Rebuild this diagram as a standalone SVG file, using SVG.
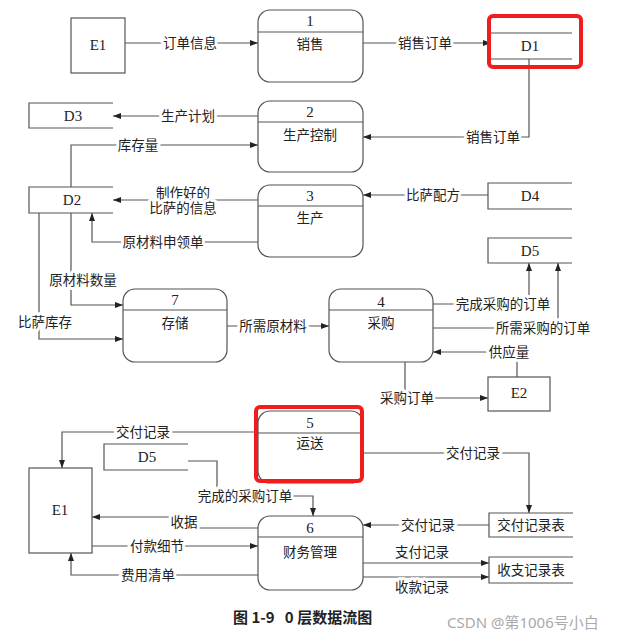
<svg xmlns="http://www.w3.org/2000/svg" width="626" height="639" viewBox="0 0 626 639">
<style>
.ln{fill:none;stroke:#555;stroke-width:1.2}
.bx{fill:#fff;stroke:#555;stroke-width:1.2}
.t{font-family:"Liberation Serif","Noto Sans CJK SC",serif;font-size:13.5px;fill:#222;text-anchor:middle;dominant-baseline:central}
.n{font-size:15px}
.lb{paint-order:stroke;stroke:#fff;stroke-width:6px;stroke-linejoin:round}
.red{fill:none;stroke:#f21c1c;stroke-width:4}
.cap{font-family:"Noto Sans CJK SC","Noto Sans",sans-serif;font-size:15px;font-weight:bold;fill:#222;white-space:pre}
.wm{font-family:"Noto Sans","Noto Sans CJK SC",sans-serif;font-size:15px;fill:#aaa}
</style>
<defs>
<marker id="a" viewBox="0 0 8 6" refX="8" refY="3" markerWidth="8" markerHeight="6" orient="auto" markerUnits="userSpaceOnUse"><path d="M0,0 L8,3 L0,6z" fill="#222"/></marker>
</defs>
<rect width="626" height="639" fill="#fff"/>
<g id="connectors">
<path class="ln" d="M125,43 H258" marker-end="url(#a)"/>
<path class="ln" d="M363,43 H491" marker-end="url(#a)"/>
<path class="ln" d="M529,59 V137 H363" marker-end="url(#a)"/>
<path class="ln" d="M258,116 H113" marker-end="url(#a)"/>
<path class="ln" d="M71,187 V145 H258" marker-end="url(#a)"/>
<path class="ln" d="M258,200 H113" marker-end="url(#a)"/>
<path class="ln" d="M258,242 H92 V213" marker-end="url(#a)"/>
<path class="ln" d="M71,213 V305 H123" marker-end="url(#a)"/>
<path class="ln" d="M39,213 V339 H123" marker-end="url(#a)"/>
<path class="ln" d="M227,326 H329" marker-end="url(#a)"/>
<path class="ln" d="M488,195 H363" marker-end="url(#a)"/>
<path class="ln" d="M433,304 H529 V263" marker-end="url(#a)"/>
<path class="ln" d="M433,328 H558 V263" marker-end="url(#a)"/>
<path class="ln" d="M517,377 V352 H433" marker-end="url(#a)"/>
<path class="ln" d="M405,362 V398 H488" marker-end="url(#a)"/>
<path class="ln" d="M258,432 H62 V468" marker-end="url(#a)"/>
<path class="ln" d="M363,453 H529 V513" marker-end="url(#a)"/>
<path class="ln" d="M188,461 H217 V496 H313 V516" marker-end="url(#a)"/>
<path class="ln" d="M258,528 H196 L172,517 H92" marker-end="url(#a)"/>
<path class="ln" d="M92,546 H258" marker-end="url(#a)"/>
<path class="ln" d="M258,575 H71 V553" marker-end="url(#a)"/>
<path class="ln" d="M489,525 H363" marker-end="url(#a)"/>
<path class="ln" d="M363,563 H489" marker-end="url(#a)"/>
<path class="ln" d="M363,577 H489" marker-end="url(#a)"/>
<g class="t lb">
<text x="190" y="43">订单信息</text>
<text x="425" y="43">销售订单</text>
<text x="493" y="137">销售订单</text>
<text x="188" y="116">生产计划</text>
<text x="138" y="145">库存量</text>
<text x="183" y="193">制作好的</text>
<text x="183" y="208">比萨的信息</text>
<text x="163" y="242">原材料申领单</text>
<text x="83" y="280">原材料数量</text>
<text x="45" y="322">比萨库存</text>
<text x="273" y="326">所需原材料</text>
<text x="433" y="195">比萨配方</text>
<text x="503" y="304">完成采购的订单</text>
<text x="543" y="328">所需采购的订单</text>
<text x="509" y="352">供应量</text>
<text x="407" y="398">采购订单</text>
<text x="143" y="432">交付记录</text>
<text x="473" y="453">交付记录</text>
<text x="245" y="496">完成的采购订单</text>
<text x="184" y="522">收据</text>
<text x="157" y="546">付款细节</text>
<text x="148" y="575">费用清单</text>
<text x="428" y="525">交付记录</text>
<text x="422" y="552">支付记录</text>
<text x="422" y="587">收款记录</text>
</g>
</g>
<g id="E1top"><rect class="bx" x="71" y="18" width="54" height="55"/><text class="t n" x="98" y="45">E1</text></g>
<g id="P1"><rect class="bx" x="258" y="10" width="105" height="72" rx="12"/><path class="ln" d="M258,32 H363"/><text class="t n" x="310" y="21">1</text><text class="t" x="310" y="44">销售</text></g>
<g id="D1"><path class="ln" d="M491,33 H572 M491,59 H572"/><text class="t n" x="530" y="46">D1</text></g>
<g id="P2"><rect class="bx" x="258" y="101" width="105" height="71" rx="12"/><path class="ln" d="M258,122 H363"/><text class="t n" x="310" y="112">2</text><text class="t" x="310" y="135">生产控制</text></g>
<g id="D3"><path class="ln" d="M113,103 H29 V128 H113"/><text class="t n" x="73" y="116">D3</text></g>
<g id="D2"><path class="ln" d="M113,187 H29 V213 H113"/><text class="t n" x="72" y="200">D2</text></g>
<g id="P3"><rect class="bx" x="258" y="185" width="105" height="72" rx="12"/><path class="ln" d="M258,206 H363"/><text class="t n" x="310" y="196">3</text><text class="t" x="310" y="218">生产</text></g>
<g id="D4"><path class="ln" d="M572,183 H488 V209 H572"/><text class="t n" x="530" y="196">D4</text></g>
<g id="D5a"><path class="ln" d="M572,238 H488 V263 H572"/><text class="t n" x="530" y="251">D5</text></g>
<g id="P7"><rect class="bx" x="123" y="289" width="104" height="73" rx="12"/><path class="ln" d="M123,310 H227"/><text class="t n" x="175" y="300">7</text><text class="t" x="175" y="323">存储</text></g>
<g id="P4"><rect class="bx" x="329" y="289" width="104" height="73" rx="12"/><path class="ln" d="M329,310 H433"/><text class="t n" x="381" y="302">4</text><text class="t" x="381" y="323">采购</text></g>
<g id="E2"><rect class="bx" x="488" y="377" width="62" height="34"/><text class="t n" x="519" y="393">E2</text></g>
<g id="P5"><rect class="bx" x="258" y="411" width="105" height="72" rx="12"/><path class="ln" d="M258,433 H363"/><text class="t n" x="310" y="423">5</text><text class="t" x="310" y="443">运送</text></g>
<g id="D5b"><path class="ln" d="M188,444 H104 V470 H188"/><text class="t n" x="147" y="457">D5</text></g>
<g id="E1"><rect class="bx" x="29" y="468" width="63" height="85"/><text class="t n" x="60" y="510">E1</text></g>
<g id="P6"><rect class="bx" x="258" y="516" width="105" height="74" rx="12"/><path class="ln" d="M258,537 H363"/><text class="t n" x="310" y="528">6</text><text class="t" x="310" y="552">财务管理</text></g>
<g id="JFB"><path class="ln" d="M573,513 H489 V537 H573"/><text class="t" x="531" y="525">交付记录表</text></g>
<g id="SZB"><path class="ln" d="M573,557 H489 V583 H573"/><text class="t" x="531" y="570">收支记录表</text></g>
<rect class="red" x="489" y="16" width="92" height="51" rx="4"/>
<rect class="red" x="256" y="407" width="106" height="74" rx="4"/>
<text class="cap" x="233" y="623" xml:space="preserve">图 1-9   0 层数据流图</text>
<text class="wm" x="447" y="628">CSDN @第1006号小白</text>
</svg>
